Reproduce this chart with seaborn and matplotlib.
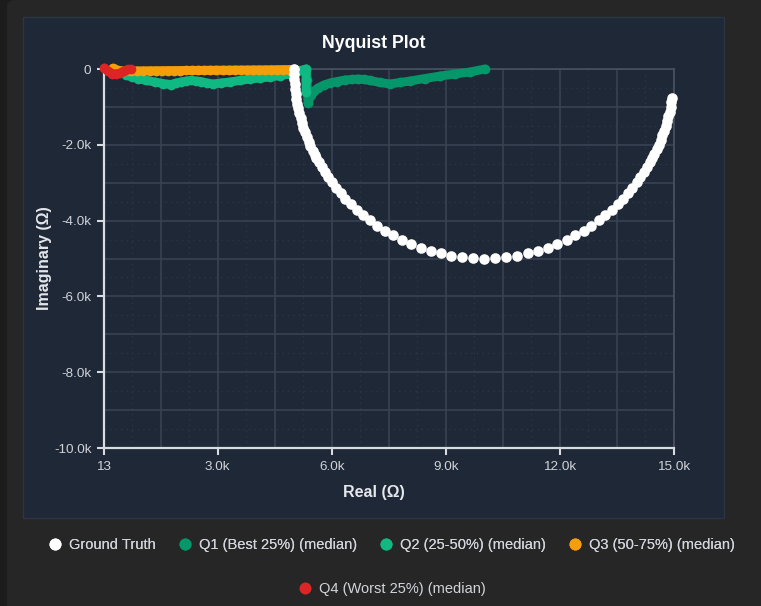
import matplotlib
matplotlib.use("Agg")
import matplotlib.pyplot as plt
import seaborn as sns
import numpy as np
from matplotlib.lines import Line2D
from matplotlib.patches import Rectangle, FancyBboxPatch
from matplotlib.ticker import FixedLocator

# ---------------- data ----------------
gt_real = [5010, 5012, 5017, 5025, 5037, 5053, 5072, 5094, 5119, 5148, 5180, 5216, 5255, 5297,
           5342, 5391, 5442, 5497, 5555,
           5592, 5659, 5733, 5815, 5905, 6004, 6113, 6232, 6362, 6503, 6657, 6822, 7001, 7192,
           7397, 7614, 7843, 8085, 8337, 8599, 8870, 9149, 9433, 9720,
           10010,
           10300, 10587, 10871, 11150, 11421, 11683, 11935, 12177, 12406, 12623, 12828, 13019,
           13198, 13363, 13517, 13658, 13788, 13907, 14016, 14115, 14205, 14287, 14361, 14428,
           14485, 14542, 14595, 14646, 14693, 14738, 14779, 14816, 14851, 14882, 14910, 14934, 14951]
gt_imag = [0, -131, -262, -392, -523, -653, -782, -911, -1040, -1167, -1294, -1420, -1545, -1669,
           -1792, -1913, -2034, -2153, -2270,
           -2341, -2463, -2590, -2720, -2854, -2992, -3132, -3275, -3419, -3564, -3709, -3852, -3993, -4130,
           -4263, -4388, -4506, -4614, -4712, -4797, -4868, -4925, -4967, -4992,
           -5000,
           -4992, -4967, -4925, -4868, -4797, -4712, -4614, -4506, -4388, -4263, -4130, -3993,
           -3852, -3709, -3564, -3419, -3275, -3132, -2992, -2854, -2720, -2590, -2463, -2341,
           -2231, -2113, -1994, -1873, -1751, -1628, -1504, -1378, -1252, -1125, -997, -868, -765]

q1_real = [5337, 5350, 5363, 5377, 5456, 5535, 5640, 5798, 5955, 6139, 6350, 6534, 6692, 6850,
           7007, 7270, 7533, 7796, 8059, 8453, 8847, 9242, 9636, 10031]
q1_imag = [0, -290, -607, -897, -686, -580, -501, -422, -369, -330, -290, -277, -264, -277,
           -303, -356, -396, -356, -317, -251, -185, -132, -79, 0]

q2_real = [591, 749, 907, 1117, 1354, 1564, 1775, 1906, 2037, 2169, 2300, 2432, 2563, 2721,
           2879, 3089, 3326, 3589, 3852, 4115, 4378, 4640, 4903, 5114, 5325, 5325, 5325]
q2_imag = [-158, -211, -251, -303, -343, -383, -409, -369, -343, -317, -303, -317, -330, -369,
           -396, -369, -343, -303, -264, -237, -211, -172, -132, -53, 0, -290, -607]

q3_real = [250, 410, 570, 730, 890, 1050, 1210, 1370, 1530, 1690, 1850, 2010, 2170, 2330, 2490,
           2650, 2810, 2970, 3130, 3290, 3450, 3610, 3770, 3930, 4090, 4250, 4410, 4570, 4730,
           4890, 5020]
q3_imag = [20, -40, -50, -50, -50, -48, -46, -45, -44, -42, -41, -40, -38, -37, -36,
           -35, -33, -32, -31, -30, -28, -27, -26, -24, -23, -22, -20, -18, -16, -14, -10]

q4_real = [26, 118, 223, 329, 434, 539, 644, 723]
q4_imag = [26, -53, -119, -132, -106, -53, -13, -13]

x_ticks = [13, 3000, 6000, 9000, 12000, 15000]
x_tick_labels = ["13", "3.0k", "6.0k", "9.0k", "12.0k", "15.0k"]
y_ticks = [0, -2000, -4000, -6000, -8000, -10000]
y_tick_labels = ["0", "-2.0k", "-4.0k", "-6.0k", "-8.0k", "-10.0k"]

series = [
    ("Q1 (Best 25%) (median)", q1_real, q1_imag, "#059669"),
    ("Q2 (25-50%) (median)", q2_real, q2_imag, "#10b981"),
    ("Q3 (50-75%) (median)", q3_real, q3_imag, "#f59e0b"),
    ("Q4 (Worst 25%) (median)", q4_real, q4_imag, "#dc2626"),
]

# ---------------- style ----------------
sns.set_theme(style="dark")
plt.rcParams["font.family"] = ["Liberation Sans", "DejaVu Sans"]

W, H = 761, 606
fig = plt.figure(figsize=(W / 100, H / 100), dpi=100)
fig.patch.set_facecolor("#1c1c1c")

# outer card and inner chart panel
fig.add_artist(FancyBboxPatch((7 / W, -0.1), 1.2, 1.1, transform=fig.transFigure,
                              boxstyle="round,pad=0,rounding_size=0.012",
                              facecolor="#262626", edgecolor="none", zorder=-2))
fig.add_artist(Rectangle((23 / W, 1 - 518 / H), (724 - 23) / W, (518 - 17) / H,
                         transform=fig.transFigure, facecolor="#1f2837",
                         edgecolor="#2c3544", lw=1, zorder=-1))

ax = fig.add_axes([104 / W, 1 - 448 / H, 570 / W, 379 / H])
ax.set_facecolor("#1f2837")

# ---------------- marks ----------------
for label, xr, yi, col in series:
    sns.lineplot(x=xr, y=yi, sort=False, estimator=None, ax=ax, color=col,
                 linewidth=6.4, marker="o", markersize=7.0, markeredgewidth=0,
                 solid_capstyle="round", solid_joinstyle="round", clip_on=False, zorder=3)

sns.scatterplot(x=gt_real, y=gt_imag, ax=ax, color="white", s=58, linewidth=0,
                clip_on=False, zorder=4)

# ---------------- axes ----------------
ax.set_xlim(13, 15000)
ax.set_ylim(-10000, 0)
ax.set_xticks(x_ticks)
ax.set_xticklabels(x_tick_labels)
ax.set_yticks(y_ticks)
ax.set_yticklabels(y_tick_labels)
ax.xaxis.set_minor_locator(FixedLocator(np.arange(1500, 15000, 3000)))
ax.yaxis.set_minor_locator(FixedLocator(np.arange(-9000, 0, 2000)))
ax.grid(which="both", color="#394252", linewidth=1.2, linestyle="-")
for xv in np.arange(750, 15000, 1500):
    ax.axvline(xv, color="#2c3545", linewidth=1, linestyle=(0, (1, 3)), zorder=0.5)
for yv in np.arange(-9500, 0, 1000):
    ax.axhline(yv, color="#2c3545", linewidth=1, linestyle=(0, (1, 3)), zorder=0.5)
ax.set_axisbelow(True)

ax.tick_params(axis="both", which="major", direction="out", length=5, width=1.5,
               color="#d8dbe0", labelcolor="#cfd2d8", labelsize=9.7, pad=4)
ax.tick_params(axis="both", which="minor", length=0)
ax.tick_params(axis="x", bottom=True)
ax.tick_params(axis="y", left=True)
for side in ["left", "bottom"]:
    ax.spines[side].set_color("#d8dbe0")
    ax.spines[side].set_linewidth(1.6)
for side in ["top", "right"]:
    ax.spines[side].set_color("#4a5262")
    ax.spines[side].set_linewidth(1.2)
ax.set_xlabel("")
ax.set_ylabel("")

fig.text(373.5 / W, 1 - 43 / H, "Nyquist Plot", ha="center", va="center",
         fontsize=12.8, fontweight="bold", color="white")
fig.text(373.5 / W, 1 - 492 / H, "Real (Ω)", ha="center", va="center",
         fontsize=11.5, fontweight="bold", color="#e5e7eb")
fig.text(44 / W, 1 - 258 / H, "Imaginary (Ω)", ha="center", va="center", rotation=90,
         fontsize=11.5, fontweight="bold", color="#e5e7eb")

# ---------------- legend ----------------
def handle(col):
    return Line2D([], [], linestyle="none", marker="o", markersize=8.6,
                  markerfacecolor=col, markeredgewidth=0)

h1 = [handle("white")] + [handle(c) for _, _, _, c in series[:3]]
l1 = ["Ground Truth"] + [s[0] for s in series[:3]]
leg_kw = dict(frameon=False, fontsize=10.5, labelcolor="#d1d5db", handlelength=1.0,
              handletextpad=0.45, columnspacing=1.5, loc="center")
leg1 = fig.legend(h1, l1, ncol=4, bbox_to_anchor=(391.5 / W, 1 - 545 / H), **leg_kw)
fig.legend([handle(series[3][3])], [series[3][0]], ncol=1,
           bbox_to_anchor=(391.5 / W, 1 - 589 / H), **leg_kw)
fig.add_artist(leg1)

fig.savefig("out.png", dpi=100, facecolor=fig.get_facecolor())
